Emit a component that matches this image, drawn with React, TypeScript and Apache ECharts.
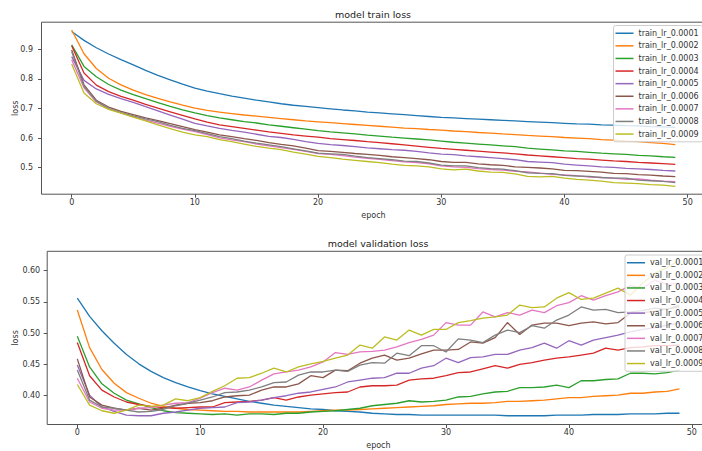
import React, { useEffect, useRef } from "react";
import * as echarts from "echarts";

const epochs = Array.from({ length: 50 }, (_, i) => i);
const lrs = ["0.0001", "0.0002", "0.0003", "0.0004", "0.0005", "0.0006", "0.0007", "0.0008", "0.0009"];
const xTicks = [0, 10, 20, 30, 40, 50];
const trainYTicks = [0.5, 0.6, 0.7, 0.8, 0.9];
const valYTicks = [0.4, 0.45, 0.5, 0.55, 0.6];

const trainLr1 = [0.960, 0.930, 0.905, 0.884, 0.865, 0.847, 0.829, 0.812, 0.797, 0.782, 0.769, 0.759, 0.750, 0.742, 0.735, 0.728, 0.722, 0.716, 0.711, 0.707, 0.703, 0.699, 0.695, 0.692, 0.688, 0.685, 0.682, 0.679, 0.676, 0.673, 0.670, 0.668, 0.666, 0.664, 0.662, 0.660, 0.658, 0.656, 0.654, 0.652, 0.650, 0.648, 0.647, 0.645, 0.644, 0.642, 0.641, 0.639, 0.638, 0.636];
const trainLr2 = [0.965, 0.885, 0.835, 0.802, 0.780, 0.762, 0.747, 0.734, 0.722, 0.711, 0.701, 0.694, 0.688, 0.683, 0.678, 0.674, 0.670, 0.666, 0.662, 0.658, 0.655, 0.652, 0.649, 0.646, 0.643, 0.640, 0.637, 0.634, 0.632, 0.629, 0.627, 0.624, 0.622, 0.619, 0.617, 0.614, 0.612, 0.609, 0.607, 0.605, 0.602, 0.600, 0.598, 0.595, 0.593, 0.590, 0.588, 0.585, 0.582, 0.578];
const trainLr3 = [0.915, 0.842, 0.807, 0.781, 0.762, 0.747, 0.733, 0.720, 0.707, 0.695, 0.685, 0.676, 0.668, 0.662, 0.656, 0.651, 0.645, 0.640, 0.635, 0.630, 0.625, 0.621, 0.618, 0.614, 0.610, 0.607, 0.603, 0.600, 0.597, 0.594, 0.590, 0.586, 0.583, 0.580, 0.577, 0.574, 0.571, 0.566, 0.563, 0.560, 0.557, 0.555, 0.552, 0.549, 0.547, 0.545, 0.542, 0.540, 0.537, 0.535];
const trainLr4 = [0.912, 0.820, 0.779, 0.757, 0.741, 0.728, 0.714, 0.701, 0.689, 0.677, 0.665, 0.654, 0.645, 0.639, 0.633, 0.627, 0.621, 0.616, 0.611, 0.607, 0.603, 0.598, 0.595, 0.592, 0.588, 0.585, 0.581, 0.577, 0.573, 0.569, 0.565, 0.562, 0.559, 0.556, 0.553, 0.550, 0.547, 0.543, 0.540, 0.537, 0.534, 0.531, 0.529, 0.526, 0.523, 0.521, 0.518, 0.516, 0.514, 0.511];
const trainLr5 = [0.875, 0.795, 0.766, 0.748, 0.733, 0.721, 0.706, 0.692, 0.678, 0.664, 0.650, 0.641, 0.633, 0.626, 0.620, 0.613, 0.606, 0.602, 0.596, 0.588, 0.582, 0.578, 0.575, 0.571, 0.567, 0.564, 0.561, 0.559, 0.555, 0.550, 0.546, 0.544, 0.540, 0.537, 0.534, 0.531, 0.527, 0.521, 0.519, 0.517, 0.512, 0.509, 0.506, 0.503, 0.501, 0.498, 0.496, 0.494, 0.491, 0.489];
const trainLr6 = [0.898, 0.780, 0.728, 0.705, 0.690, 0.679, 0.668, 0.659, 0.649, 0.639, 0.629, 0.620, 0.611, 0.605, 0.598, 0.592, 0.585, 0.579, 0.574, 0.566, 0.558, 0.555, 0.552, 0.548, 0.545, 0.542, 0.537, 0.534, 0.531, 0.527, 0.521, 0.518, 0.518, 0.513, 0.510, 0.508, 0.503, 0.501, 0.499, 0.496, 0.491, 0.490, 0.488, 0.485, 0.481, 0.480, 0.477, 0.475, 0.472, 0.470];
const trainLr7 = [0.865, 0.770, 0.722, 0.699, 0.685, 0.672, 0.661, 0.651, 0.640, 0.630, 0.622, 0.612, 0.601, 0.594, 0.588, 0.580, 0.574, 0.568, 0.562, 0.555, 0.548, 0.545, 0.541, 0.536, 0.532, 0.528, 0.524, 0.520, 0.517, 0.513, 0.506, 0.503, 0.501, 0.497, 0.494, 0.492, 0.488, 0.486, 0.482, 0.478, 0.476, 0.473, 0.468, 0.467, 0.465, 0.461, 0.462, 0.458, 0.455, 0.453];
const trainLr8 = [0.892, 0.775, 0.725, 0.700, 0.686, 0.675, 0.665, 0.656, 0.643, 0.633, 0.625, 0.615, 0.605, 0.598, 0.590, 0.583, 0.577, 0.571, 0.564, 0.557, 0.549, 0.547, 0.545, 0.539, 0.534, 0.531, 0.527, 0.522, 0.521, 0.516, 0.509, 0.506, 0.506, 0.500, 0.497, 0.495, 0.490, 0.483, 0.481, 0.480, 0.474, 0.472, 0.471, 0.467, 0.465, 0.465, 0.458, 0.456, 0.454, 0.450];
const trainLr9 = [0.850, 0.752, 0.716, 0.697, 0.684, 0.671, 0.658, 0.645, 0.632, 0.620, 0.611, 0.605, 0.595, 0.588, 0.580, 0.572, 0.566, 0.561, 0.553, 0.546, 0.538, 0.534, 0.529, 0.525, 0.521, 0.517, 0.512, 0.508, 0.506, 0.503, 0.496, 0.493, 0.495, 0.489, 0.485, 0.484, 0.479, 0.471, 0.469, 0.471, 0.465, 0.461, 0.458, 0.455, 0.450, 0.448, 0.446, 0.443, 0.441, 0.437];

const valLr1 = [0.556, 0.527, 0.504, 0.484, 0.466, 0.451, 0.439, 0.429, 0.421, 0.414, 0.408, 0.403, 0.399, 0.395, 0.391, 0.388, 0.385, 0.383, 0.381, 0.379, 0.378, 0.376, 0.375, 0.374, 0.372, 0.371, 0.370, 0.370, 0.369, 0.369, 0.369, 0.369, 0.369, 0.369, 0.369, 0.368, 0.368, 0.368, 0.368, 0.369, 0.369, 0.369, 0.370, 0.370, 0.370, 0.371, 0.371, 0.371, 0.372, 0.372];
const valLr2 = [0.537, 0.477, 0.442, 0.420, 0.405, 0.396, 0.388, 0.383, 0.380, 0.378, 0.377, 0.376, 0.375, 0.375, 0.374, 0.374, 0.374, 0.374, 0.374, 0.375, 0.376, 0.377, 0.377, 0.378, 0.379, 0.380, 0.381, 0.382, 0.383, 0.384, 0.386, 0.387, 0.388, 0.388, 0.389, 0.391, 0.391, 0.392, 0.393, 0.395, 0.397, 0.397, 0.399, 0.400, 0.401, 0.404, 0.404, 0.406, 0.407, 0.411];
const valLr3 = [0.495, 0.446, 0.419, 0.404, 0.393, 0.387, 0.381, 0.376, 0.373, 0.372, 0.371, 0.370, 0.371, 0.369, 0.371, 0.371, 0.370, 0.372, 0.372, 0.374, 0.375, 0.376, 0.378, 0.380, 0.384, 0.386, 0.388, 0.392, 0.390, 0.391, 0.393, 0.398, 0.399, 0.403, 0.406, 0.407, 0.413, 0.413, 0.414, 0.417, 0.413, 0.424, 0.424, 0.426, 0.427, 0.436, 0.436, 0.435, 0.437, 0.441];
const valLr4 = [0.485, 0.432, 0.409, 0.398, 0.390, 0.386, 0.383, 0.381, 0.380, 0.381, 0.382, 0.382, 0.389, 0.390, 0.391, 0.393, 0.397, 0.393, 0.398, 0.401, 0.403, 0.405, 0.406, 0.414, 0.416, 0.416, 0.417, 0.425, 0.427, 0.428, 0.432, 0.437, 0.438, 0.443, 0.448, 0.444, 0.450, 0.453, 0.457, 0.460, 0.462, 0.465, 0.468, 0.476, 0.473, 0.477, 0.478, 0.480, 0.480, 0.481];
const valLr5 = [0.449, 0.401, 0.382, 0.375, 0.369, 0.368, 0.368, 0.372, 0.374, 0.377, 0.380, 0.381, 0.382, 0.389, 0.390, 0.393, 0.397, 0.400, 0.404, 0.406, 0.410, 0.414, 0.422, 0.425, 0.428, 0.429, 0.436, 0.436, 0.444, 0.448, 0.460, 0.453, 0.461, 0.462, 0.466, 0.466, 0.473, 0.477, 0.484, 0.476, 0.488, 0.481, 0.489, 0.493, 0.497, 0.502, 0.506, 0.509, 0.513, 0.516];
const valLr6 = [0.459, 0.398, 0.385, 0.380, 0.377, 0.380, 0.377, 0.380, 0.385, 0.388, 0.389, 0.392, 0.398, 0.400, 0.401, 0.409, 0.414, 0.414, 0.419, 0.432, 0.429, 0.441, 0.440, 0.452, 0.460, 0.465, 0.457, 0.460, 0.467, 0.473, 0.473, 0.474, 0.486, 0.484, 0.493, 0.517, 0.498, 0.513, 0.516, 0.516, 0.512, 0.516, 0.518, 0.515, 0.517, 0.532, 0.533, 0.535, 0.539, 0.542];
const valLr7 = [0.428, 0.390, 0.380, 0.377, 0.377, 0.380, 0.381, 0.385, 0.388, 0.389, 0.396, 0.405, 0.412, 0.409, 0.414, 0.425, 0.435, 0.438, 0.441, 0.446, 0.454, 0.469, 0.466, 0.470, 0.471, 0.473, 0.478, 0.485, 0.490, 0.497, 0.517, 0.513, 0.513, 0.534, 0.526, 0.533, 0.529, 0.537, 0.533, 0.544, 0.549, 0.560, 0.553, 0.560, 0.566, 0.576, 0.572, 0.585, 0.578, 0.580];
const valLr8 = [0.441, 0.393, 0.382, 0.380, 0.377, 0.374, 0.375, 0.378, 0.384, 0.388, 0.393, 0.398, 0.405, 0.406, 0.409, 0.414, 0.421, 0.422, 0.433, 0.438, 0.438, 0.441, 0.439, 0.449, 0.453, 0.452, 0.468, 0.464, 0.480, 0.480, 0.470, 0.491, 0.489, 0.485, 0.497, 0.505, 0.501, 0.512, 0.508, 0.521, 0.529, 0.542, 0.537, 0.538, 0.533, 0.534, 0.536, 0.540, 0.538, 0.545];
const valLr9 = [0.418, 0.385, 0.376, 0.372, 0.377, 0.385, 0.383, 0.385, 0.395, 0.392, 0.397, 0.407, 0.416, 0.428, 0.429, 0.436, 0.444, 0.438, 0.446, 0.451, 0.455, 0.460, 0.465, 0.481, 0.476, 0.494, 0.489, 0.505, 0.497, 0.506, 0.506, 0.517, 0.520, 0.524, 0.526, 0.529, 0.545, 0.541, 0.542, 0.556, 0.565, 0.554, 0.556, 0.564, 0.572, 0.561, 0.580, 0.596, 0.605, 0.617];

const trainSeries = [trainLr1, trainLr2, trainLr3, trainLr4, trainLr5, trainLr6, trainLr7, trainLr8, trainLr9];
const valSeries = [valLr1, valLr2, valLr3, valLr4, valLr5, valLr6, valLr7, valLr8, valLr9];
const COLORS = ["#1f77b4", "#ff7f0e", "#2ca02c", "#d62728", "#9467bd", "#8c564b", "#e377c2", "#7f7f7f", "#bcbd22"];

const FONT = "DejaVu Sans";
const TXT = "#333";
const SPINE = "#555";

export default function App() {
  const ref = useRef<HTMLDivElement>(null);
  useEffect(() => {
    const chart = echarts.init(ref.current!, null, { renderer: "svg" });
    const trainNames = lrs.map((l) => "train_lr_" + l);
    const valNames = lrs.map((l) => "val_lr_" + l);

    const mkX = (idx: number) => ({
      type: "value",
      gridIndex: idx,
      min: -2.45,
      max: 51.45,
      name: "epoch",
      nameLocation: "middle",
      nameGap: 17,
      nameMoveOverlap: false,
      nameTextStyle: { fontSize: 8, color: TXT, fontFamily: FONT },
      axisLine: { show: false, onZero: false },
      splitLine: { show: false },
      axisTick: { show: true, length: 3.5, lineStyle: { color: SPINE }, customValues: xTicks },
      axisLabel: { fontSize: 8, color: TXT, fontFamily: FONT, margin: 4, customValues: xTicks },
    });
    const mkY = (idx: number, min: number, max: number, ticks: number[], dec: number, gap: number, margin: number) => ({
      type: "value",
      gridIndex: idx,
      min,
      max,
      name: "loss",
      nameLocation: "middle",
      nameRotate: 90,
      nameGap: gap,
      nameMoveOverlap: false,
      nameTextStyle: { fontSize: 8, color: TXT, fontFamily: FONT },
      axisLine: { show: false, onZero: false },
      splitLine: { show: false },
      axisTick: { show: true, length: 3.5, lineStyle: { color: SPINE }, customValues: ticks },
      axisLabel: {
        fontSize: 8,
        color: TXT,
        fontFamily: FONT,
        margin,
        customValues: ticks,
        formatter: (v: number) => v.toFixed(dec),
      },
    });

    const legendCommon = {
      orient: "vertical",
      icon: "rect",
      itemWidth: 18,
      itemHeight: 1.5,
      itemGap: 3.1,
      selectedMode: false,
      padding: [3, 4, 3, 2],
      backgroundColor: "rgba(255,255,255,0.8)",
      borderColor: "#cccccc",
      borderWidth: 1,
      borderRadius: 2,
      textStyle: { fontSize: 8, lineHeight: 9.5, color: TXT, fontFamily: FONT },
    };

    const series: any[] = [];
    trainSeries.forEach((arr, k) => {
      series.push({
        type: "line",
        name: trainNames[k],
        xAxisIndex: 0,
        yAxisIndex: 0,
        data: epochs.map((e, i) => [e, arr[i]]),
        showSymbol: false,
        symbol: "none",
        color: COLORS[k],
        lineStyle: { width: 1.3, color: COLORS[k] },
      });
    });
    valSeries.forEach((arr, k) => {
      series.push({
        type: "line",
        name: valNames[k],
        xAxisIndex: 1,
        yAxisIndex: 1,
        data: epochs.map((e, i) => [e, arr[i]]),
        showSymbol: false,
        symbol: "none",
        color: COLORS[k],
        lineStyle: { width: 1.3, color: COLORS[k] },
      });
    });

    chart.setOption({
      animation: false,
      backgroundColor: "#ffffff",
      grid: [
        { left: 41.5, top: 22.2, width: 664, height: 172, show: true, borderColor: SPINE, borderWidth: 1, backgroundColor: "transparent", containLabel: false, outerBoundsMode: "none" },
        { left: 47.2, top: 251.3, width: 662.4, height: 173.2, show: true, borderColor: SPINE, borderWidth: 1, backgroundColor: "transparent", containLabel: false, outerBoundsMode: "none" },
      ],
      xAxis: [mkX(0), mkX(1)],
      yAxis: [mkY(0, 0.4106, 0.9914, trainYTicks, 1, 22, 8.5), mkY(1, 0.354, 0.631, valYTicks, 2, 28, 7)],
      legend: [
        { ...legendCommon, left: 613.5, top: 25.5, data: trainNames },
        { ...legendCommon, left: 625, top: 255, data: valNames },
      ],
      graphic: [
        { type: "text", x: 373, y: 14, style: { text: "model train loss", fontSize: 9.5, fontFamily: FONT, fill: "#222", align: "center", verticalAlign: "middle" } },
        { type: "text", x: 378, y: 243, style: { text: "model validation loss", fontSize: 9.5, fontFamily: FONT, fill: "#222", align: "center", verticalAlign: "middle" } },
      ],
      series,
    });
    return () => chart.dispose();
  }, []);
  return <div ref={ref} style={{ position: "fixed", left: 0, top: 0, width: 702, height: 451 }} />;
}
